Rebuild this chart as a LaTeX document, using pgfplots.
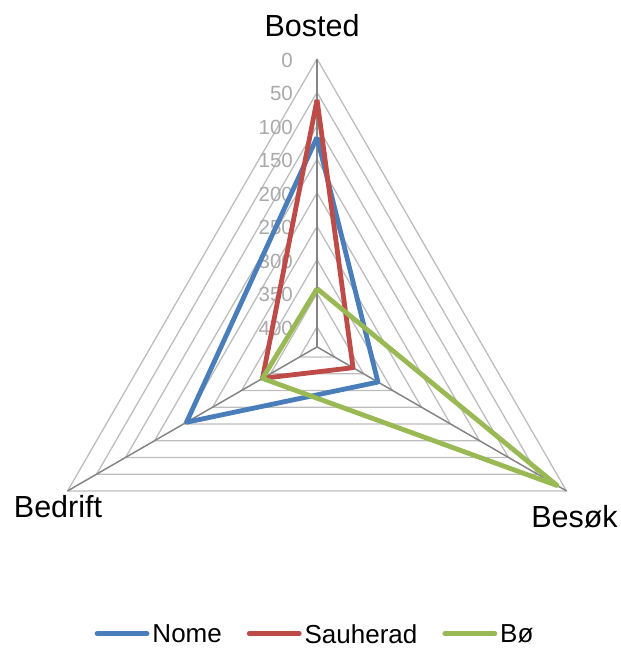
\documentclass[border=0pt]{standalone}
\usepackage{pgfplots}
\pgfplotsset{compat=1.18}
\usepackage{pgfplotstable}
\usepackage{fontspec}
\setmainfont{Liberation Sans}
\definecolor{nome}{HTML}{4A7EBB}
\definecolor{sauherad}{HTML}{BE4B48}
\definecolor{boe}{HTML}{98B954}
\definecolor{gridgray}{HTML}{BDBDBD}
\definecolor{axisgray}{HTML}{858585}
\definecolor{ticklab}{HTML}{A9A9A9}

% angle: Bosted 90, Besok 330, Bedrift 210 ; v = value (axis reversed, 0 at rim, 430 at centre)
\pgfplotstableread{
a v
90 117
330 325
210 205
90 117
}\nome
\pgfplotstableread{
a v
90 61
330 368
210 336
90 61
}\sauherad
\pgfplotstableread{
a v
90 343
330 16
210 336
90 343
}\boe

\begin{document}
\begin{tikzpicture}
\begin{axis}[
  x=0.6698pt, y=0.6698pt,
  xmin=-473.3, xmax=452.4, ymin=-449.5, ymax=517.9,
  hide axis, clip=false,
  legend columns=3,
  legend style={at={(axis cs:-2.2,-428.0)}, anchor=center, draw=none, fill=none,
    font=\fontsize{26}{30}\selectfont, inner sep=0pt,
    nodes={inner xsep=3pt, inner ysep=0pt, text depth=0pt},
    /tikz/every even column/.append style={column sep=22pt}},
  legend image code/.code={\draw[#1, line width=4.8pt, line cap=round] (0pt,0pt) -- (50pt,0pt);},
]
\coordinate (bl) at (rel axis cs:0,0);
\coordinate (tr) at (rel axis cs:1,1);
% triangular grid
\pgfplotsinvokeforeach{430,380,330,280,230,180,130,80,30}{
  \addplot[gridgray, line width=1.3pt, line join=miter, data cs=polar, forget plot]
    coordinates {(90,#1) (210,#1) (330,#1) (90,#1)};
}
% radial axes
\addplot[axisgray, line width=1.5pt, data cs=polar, forget plot] coordinates {(90,0) (90,430)};
\addplot[axisgray, line width=1.5pt, data cs=polar, forget plot] coordinates {(210,0) (210,430)};
\addplot[axisgray, line width=1.5pt, data cs=polar, forget plot] coordinates {(330,0) (330,430)};
% tick labels
\pgfplotsinvokeforeach{0,50,100,150,200,250,300,350,400}{
  \node[anchor=east, inner sep=0pt, text=ticklab, font=\fontsize{20.5}{24}\selectfont]
    at (axis cs:-35.8,{428-#1}) {#1};
}
% category labels
\node[anchor=base, inner sep=0pt, font=\fontsize{30.5}{36}\selectfont] at (axis cs:-7.5,462.7) {Bosted};
\node[anchor=base, inner sep=0pt, font=\fontsize{30.5}{36}\selectfont] at (axis cs:-386.7,-254.0) {Bedrift};
\node[anchor=base, inner sep=0pt, font=\fontsize{30.5}{36}\selectfont] at (axis cs:384.4,-268.9) {Besøk};
% data
\addplot[nome, line width=4.8pt, line join=round, data cs=polar] table[x=a, y expr=430-\thisrow{v}] {\nome};
\addlegendentry{Nome}
\addplot[sauherad, line width=4.8pt, line join=round, data cs=polar] table[x=a, y expr=430-\thisrow{v}] {\sauherad};
\addlegendentry{Sauherad}
\addplot[boe, line width=4.8pt, line join=round, data cs=polar] table[x=a, y expr=430-\thisrow{v}] {\boe};
\addlegendentry{Bø}
\end{axis}
\pgfresetboundingbox
\path (bl) rectangle (tr);
\end{tikzpicture}
\end{document}
